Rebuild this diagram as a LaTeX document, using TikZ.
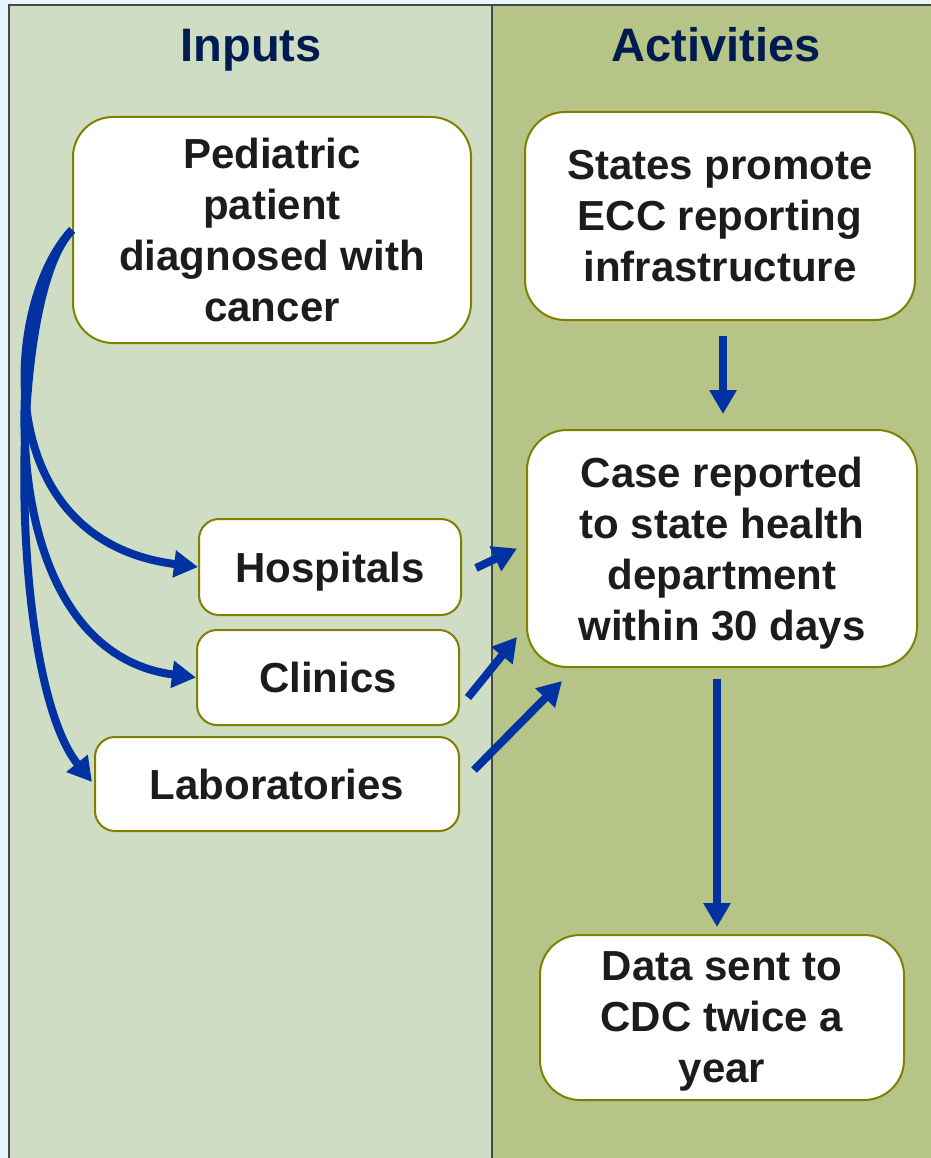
\documentclass[tikz,border=0pt]{standalone}
\usepackage{fontspec}
\setmainfont{Liberation Sans}
\usetikzlibrary{arrows.meta}
\definecolor{pageBlue}{HTML}{E4F5FB}
\definecolor{inputGreen}{HTML}{CFDDC4}
\definecolor{activityGreen}{HTML}{B7C487}
\definecolor{frameGray}{HTML}{474747}
\definecolor{boxOlive}{HTML}{808000}
\definecolor{flowBlue}{HTML}{0033A1}
\definecolor{titleNavy}{HTML}{001B50}
\definecolor{textBlack}{HTML}{1C1C1C}
\tikzset{
		panelStyle/.style = {fill=#1,draw=frameGray,line width=2pt},
		titleStyle/.style = {text=titleNavy,anchor=base,font=\fontsize{47}{56}\selectfont\bfseries},
		bigBox/.style =     {draw=boxOlive,fill=white,line width=2pt,rounded corners=40pt,
		                     align=center,inner sep=0pt,text depth=0pt,text=textBlack,
		                     font=\fontsize{42}{51}\selectfont\bfseries},
		smallBox/.style =   {bigBox,rounded corners=20pt},
		flow/.style =       {draw=flowBlue,line width=8pt,-{Triangle[length=24pt,width=26pt]}}
}

\begin{document}
\begin{tikzpicture}[x=1pt,y=-1pt]
  \useasboundingbox (0,0) rectangle (930,1158);
  \fill[pageBlue] (0,0) rectangle (930,1158);

  % Draw the two columns
  \draw[panelStyle=inputGreen] (9,5) rectangle (492,1170);
  \draw[panelStyle=activityGreen] (492,5) rectangle (940,1170);
  \node [titleStyle] (inTitle) at (251,62) {Inputs};
  \node [titleStyle] (actTitle) at (716,62) {Activities};

  % Draw input boxes
  \node [bigBox,minimum width=398pt,minimum height=226pt] (ped) at (272,230)
        {Pediatric\\patient\\diagnosed with\\cancer};
  \node [smallBox,minimum width=262pt,minimum height=96pt] (hosp) at (330,567) {Hospitals};
  \node [smallBox,minimum width=262pt,minimum height=95pt] (clin) at (328,677.5) {Clinics};
  \node [smallBox,minimum width=364pt,minimum height=94pt] (labs) at (277,784) {Laboratories};

  % Draw activity boxes
  \node [bigBox,minimum width=390pt,minimum height=208pt] (states) at (720,216)
        {States promote\\ECC reporting\\infrastructure};
  \node [bigBox,minimum width=390pt,minimum height=237pt] (case) at (722,548.5)
        {Case reported\\to state health\\department\\within 30 days};
  \node [bigBox,minimum width=364pt,minimum height=165pt] (data) at (722,1017.5)
        {Data sent to\\CDC twice a\\year};

  % Draw curved arrows from the patient to the reporting sources
  \draw [flow] (ped.west) .. controls (5,300) and (-15,540) .. (hosp.west);
  \draw [flow] (ped.west) .. controls (5,300) and (-15,650) .. (clin.west);
  \draw [flow] (ped.west) .. controls (5,300) and (10,680) .. ([xshift=-2pt,yshift=2pt]labs.west);

  % Draw arrows from the sources to the reported case
  \draw [flow] ([xshift=14pt,yshift=-1pt]hosp.east) -- ([xshift=-9pt]case.west);
  \draw [flow] ([xshift=8pt,yshift=-20pt]clin.east) -- ([xshift=-9pt,yshift=31pt]case.south west);
  \draw [flow] ([xshift=14pt,yshift=14pt]labs.east) -- ([xshift=36pt,yshift=-13pt]case.south west);

  % Draw vertical arrows in the activities column
  \draw [flow,shorten <=15pt,shorten >=15pt] ([xshift=3pt]states.south) -- ([xshift=1pt]case.north);
  \draw [flow,shorten <=11pt,shorten >=7pt] ([xshift=-5pt]case.south) -- ([xshift=-5pt]data.north);

\end{tikzpicture}
\end{document}
